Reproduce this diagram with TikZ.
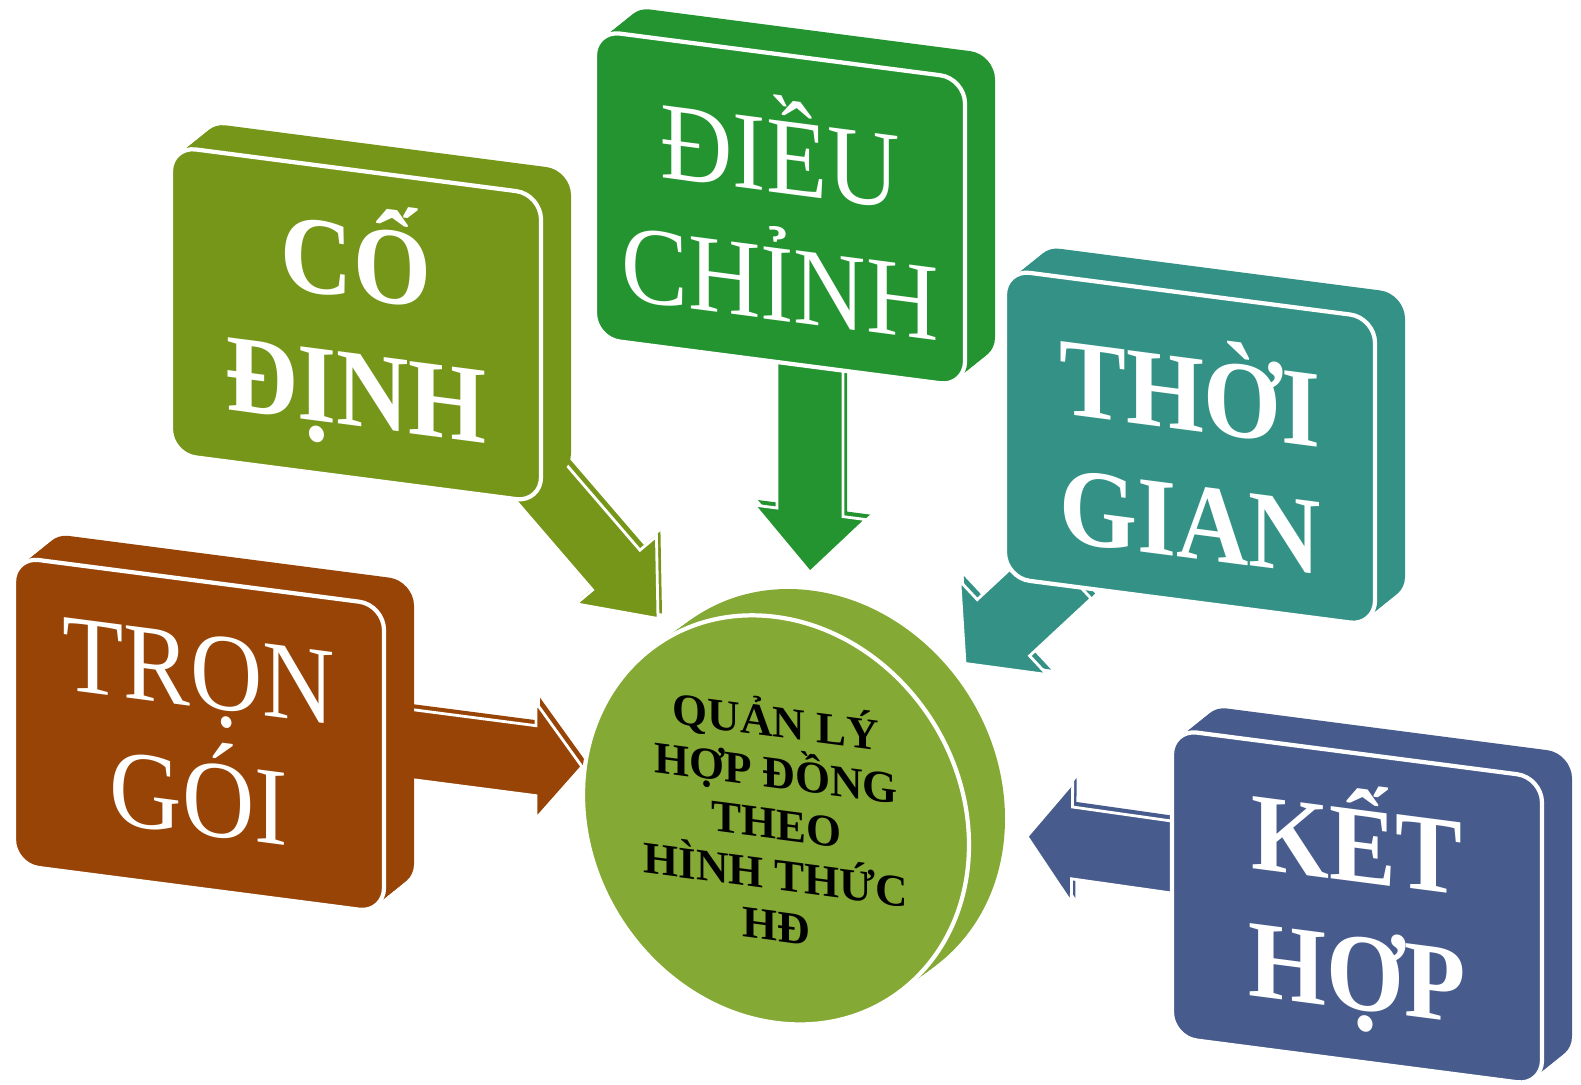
\documentclass[tikz,border=0pt]{standalone}
\usepackage{fontspec}
\setmainfont{Liberation Serif}
\usetikzlibrary{calc,shapes.geometric}

\definecolor{brownbox}{HTML}{974406}
\definecolor{olivebox}{HTML}{76961A}
\definecolor{greenbox}{HTML}{23942F}
\definecolor{tealbox}{HTML}{339285}
\definecolor{bluebox}{HTML}{475B8C}
\definecolor{discgreen}{HTML}{84AA35}

\tikzset{
  slab/.style={rectangle, rounded corners=0.25cm, minimum width=3.70cm,
    minimum height=3.08cm, inner sep=0pt, transform shape},
  face/.style={slab, draw=white, line width=1.2pt},
  slabtext/.style={transform shape, yscale=1.1, align=center, text=white,
    inner sep=0pt},
  disc/.style={ellipse, minimum width=3.86cm, minimum height=4.06cm,
    inner sep=0pt, transform shape, fill=discgreen, align=center},
}

% extruded box: name, top-left corner, colour, weight, text
\newcommand{\slabbox}[5]{%
  \foreach \k in {12,...,1}
    \node[slab, fill=#3] at ($(#2)+(1.85,-1.54)+{\k/12}*(0.30,0.28)$) {};
  \node[face, fill=#3] (#1) at ($(#2)+(1.85,-1.54)$) {};
  \node[slabtext, font=\fontsize{28.5}{33}\selectfont#4] at (#1) {#5};
}

% block arrow: colour, tail, tip, shaft half width, head half width, head length
\newcommand{\blockarrow}[6]{%
  \coordinate (neck) at ($(#3)!#6!(#2)$);
  \fill[#1, transform canvas={shift={(0.04,0.05)}}]
    ($(#2)!#4!90:(#3)$) -- ($(neck)!#4!90:(#3)$) -- ($(neck)!#5!90:(#3)$)
    -- (#3) -- ($(neck)!#5!-90:(#3)$) -- ($(neck)!#4!-90:(#3)$)
    -- ($(#2)!#4!-90:(#3)$) -- cycle;
  \filldraw[fill=#1, draw=white, line width=0.8pt]
    ($(#2)!#4!90:(#3)$) -- ($(neck)!#4!90:(#3)$) -- ($(neck)!#5!90:(#3)$)
    -- (#3) -- ($(neck)!#5!-90:(#3)$) -- ($(neck)!#4!-90:(#3)$)
    -- ($(#2)!#4!-90:(#3)$) -- cycle;
}

\begin{document}
\begin{tikzpicture}

  \useasboundingbox (0,0) rectangle (15.81,-10.85);

  % everything leans the same way
  \begin{scope}[yslant=-0.13]

    % arrow ends
    \coordinate (brownTail) at (4.05,-6.91);
    \coordinate (brownTip)  at (5.82,-6.91);
    \coordinate (oliveTail) at (5.30,-4.01);
    \coordinate (oliveTip)  at (6.58,-5.33);
    \coordinate (greenTail) at (8.10,-2.55);
    \coordinate (greenTip)  at (8.10,-4.67);
    \coordinate (tealTail)  at (10.65,-4.32);
    \coordinate (tealTip)   at (9.65,-5.38);
    \coordinate (blueTail)  at (11.95,-7.05);
    \coordinate (blueTip)   at (10.27,-7.03);

    % arrows (behind the boxes)
    \blockarrow{brownbox}{brownTail}{brownTip}{0.35cm}{0.58cm}{0.46cm}
    \blockarrow{olivebox}{oliveTail}{oliveTip}{0.33cm}{0.56cm}{0.60cm}
    \blockarrow{greenbox}{greenTail}{greenTip}{0.33cm}{0.56cm}{0.60cm}
    \blockarrow{tealbox}{tealTail}{tealTip}{0.36cm}{0.60cm}{0.56cm}
    \blockarrow{bluebox}{blueTail}{blueTip}{0.36cm}{0.60cm}{0.45cm}

    % the five boxes
    \slabbox{trongoi}{0.14,-5.55}{brownbox}{\mdseries}{TRỌN\\GÓI}
    \slabbox{codinh}{1.71,-1.24}{olivebox}{\bfseries}{CỐ\\ĐỊNH}
    \slabbox{dieuchinh}{5.95,0.47}{greenbox}{\mdseries}{ĐIỀU\\CHỈNH}
    \slabbox{thoigian}{10.05,-1.39}{tealbox}{\bfseries}{THỜI\\GIAN}
    \slabbox{kethop}{11.72,-5.77}{bluebox}{\bfseries}{KẾT\\HỢP}

    % centre disc
    \foreach \k in {12,...,1}
      \node[disc] at ($(7.76,-7.19)+{\k/12}*(0.36,0.31)$) {};
    \node[disc, draw=white, line width=1.2pt,
      font=\fontsize{12.8}{14.5}\selectfont\bfseries] (hd) at (7.76,-7.19)
      {QUẢN LÝ\\HỢP ĐỒNG\\THEO\\HÌNH THỨC\\HĐ};

  \end{scope}

\end{tikzpicture}
\end{document}
